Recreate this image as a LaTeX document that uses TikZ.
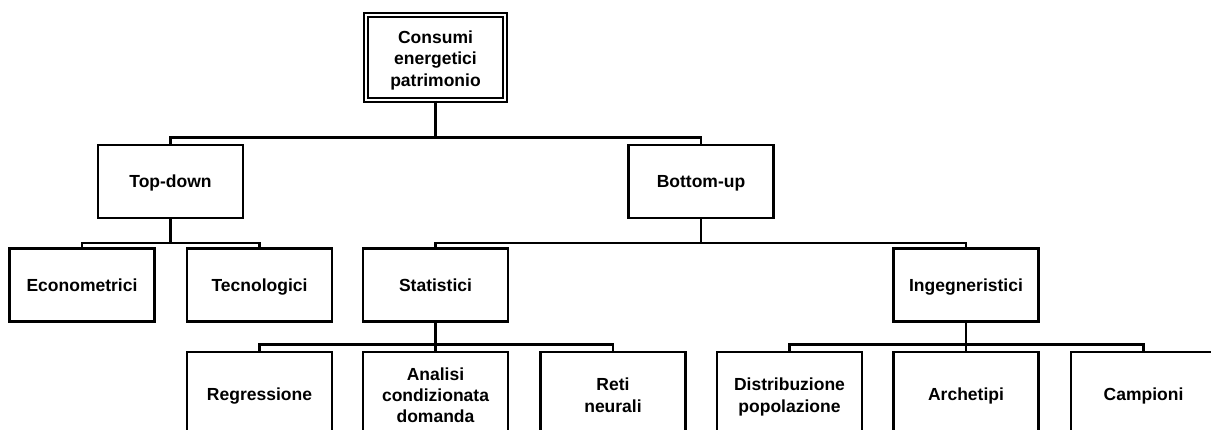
\documentclass[tikz,border=0pt]{standalone}
\usepackage{fontspec}
\setmainfont{Liberation Sans}
\newcommand{\topstrut}{\rule{0pt}{18.5pt}}
\newcommand{\fls}{\rule{0pt}{20.5pt}}
\newcommand{\botstrut}{\rule[-5.5pt]{0pt}{5.5pt}}
\begin{document}
\begin{tikzpicture}[x=1pt,y=-1pt,
  box/.style={draw=black, line width=2.4pt, fill=white, minimum width=145pt, align=center,
    font=\fontsize{17.5}{21.3}\selectfont\bfseries, inner sep=0pt,
    execute at begin node=\topstrut, execute at end node=\botstrut},
  lvl/.style={box, minimum height=73pt},
  low/.style={box, minimum height=84pt},
  rootbox/.style={box, line width=1.7pt, double, double distance=2pt, minimum width=139pt, minimum height=85pt},
  conn/.style={draw=black, line width=2.4pt}]
\useasboundingbox (0,0) rectangle (1211,430);
\clip (0,0) rectangle (1211,430);
\fill[white] (0,0) rectangle (1211,430);
% nodes
\node[rootbox] (root) at (435.5,57.5) {\fls Consumi\\energetici\\patrimonio};
\node[lvl] (td) at (170.5,181.5) {Top-down};
\node[lvl] (bu) at (701,181.5) {Bottom-up};
\node[lvl] (eco) at (82,285) {Econometrici};
\node[lvl] (tec) at (259.5,285) {Tecnologici};
\node[lvl] (sta) at (435.5,285) {Statistici};
\node[lvl] (ing) at (966,285) {Ingegneristici};
\node[low] (reg) at (259.5,394) {Regressione};
\node[low] (ana) at (435.5,394) {\fls Analisi\\condizionata\\domanda};
\node[low] (ret) at (613,394) {\fls Reti\\neurali};
\node[low] (dis) at (789.5,394) {\fls Distribuzione\\popolazione};
\node[low] (arc) at (966,394) {Archetipi};
\node[low] (cam) at (1143.5,394) {Campioni};
% bus levels
\coordinate (b1) at (0,137.5);
\coordinate (b2) at (0,243);
\coordinate (b3) at (0,344.5);
% connectors
\draw[conn] (root.south) -- (root.south |- b1) -| (td.north);
\draw[conn] (root.south) -- (root.south |- b1) -| (bu.north);
\draw[conn] (td.south) -- (td.south |- b2) -| (eco.north);
\draw[conn] (td.south) -- (td.south |- b2) -| (tec.north);
\draw[conn] (bu.south) -- (bu.south |- b2) -| (sta.north);
\draw[conn] (bu.south) -- (bu.south |- b2) -| (ing.north);
\draw[conn] (sta.south) -- (sta.south |- b3) -| (reg.north);
\draw[conn] (sta.south) -- (sta.south |- b3) -| (ana.north);
\draw[conn] (sta.south) -- (sta.south |- b3) -| (ret.north);
\draw[conn] (ing.south) -- (ing.south |- b3) -| (dis.north);
\draw[conn] (ing.south) -- (ing.south |- b3) -| (arc.north);
\draw[conn] (ing.south) -- (ing.south |- b3) -| (cam.north);
\end{tikzpicture}
\end{document}
